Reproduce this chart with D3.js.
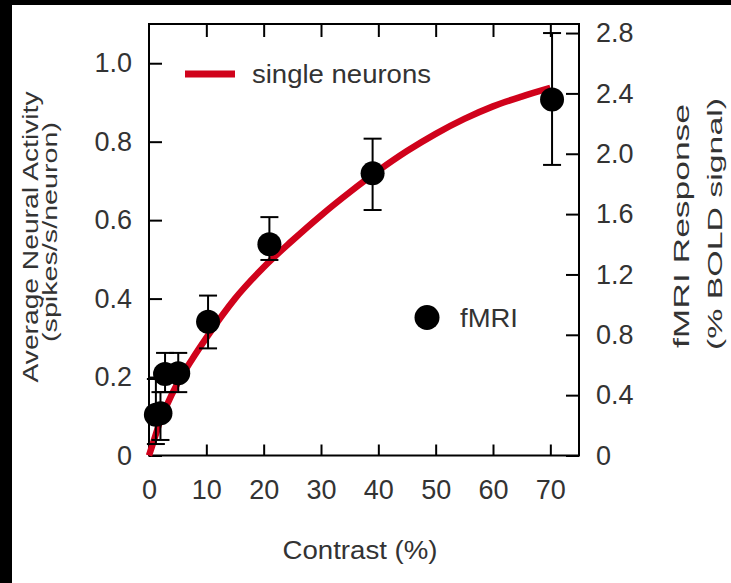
<!DOCTYPE html>
<html><head><meta charset="utf-8">
<script src="https://cdn.jsdelivr.net/npm/d3@7"></script>
<style>body{margin:0;background:#000;}svg{display:block;}</style>
</head><body>
<svg id="chart" width="731" height="583"></svg>
<script>
// ---- data ----
const xTicks = [0, 10, 20, 30, 40, 50, 60, 70];
const leftTicks = [0, 0.2, 0.4, 0.6, 0.8, 1.0];
const leftTickLabels = ["0", "0.2", "0.4", "0.6", "0.8", "1.0"];
const rightTicks = [0, 0.4, 0.8, 1.2, 1.6, 2.0, 2.4, 2.8];
const rightTickLabels = ["0", "0.4", "0.8", "1.2", "1.6", "2.0", "2.4", "2.8"];

// single neuron fit (Contrast %, spikes/s/neuron)
const curveContrast = [0, 1, 2, 3, 5, 7.5, 10, 15, 20, 25, 30, 35, 40, 45, 50, 55, 60, 65, 70];
const curveActivity = [0, 0.045, 0.09, 0.125, 0.185, 0.245, 0.30, 0.40, 0.48, 0.548, 0.612, 0.671, 0.726, 0.776, 0.82, 0.858, 0.89, 0.915, 0.937];

// fMRI (Contrast %, % BOLD signal)
const fmriContrast = [1.2, 2.0, 2.8, 5.1, 10.3, 21, 39, 70.3];
const fmriBold = [0.27, 0.28, 0.54, 0.545, 0.887, 1.40, 1.87, 2.36];
const fmriLow = [0.076, 0.103, 0.42, 0.42, 0.71, 1.296, 1.627, 1.926];
const fmriHigh = [0.507, 0.42, 0.68, 0.68, 1.06, 1.58, 2.10, 2.80];

// ---- drawing ----
const svg = d3.select("#chart");
const RED = "#d0021b", TXT = "#333";
const FONT = "'Liberation Sans', Arial, sans-serif";

svg.append("rect").attr("x", 0).attr("y", 0).attr("width", 731).attr("height", 583).attr("fill", "#000");
svg.append("rect").attr("x", 12).attr("y", 5).attr("width", 719).attr("height", 578).attr("fill", "#fff");

const L = 149, R = 579, T = 24, B = 455.5;
const x = d3.scaleLinear().domain([0, 75]).range([L, R]);
const yL = d3.scaleLinear().domain([0, 1.1]).range([B, T]);
const yR = d3.scaleLinear().domain([0, 2.86]).range([B, T]);

// frame
svg.append("rect").attr("x", L).attr("y", T).attr("width", R - L).attr("height", B - T)
  .attr("fill", "none").attr("stroke", "#000").attr("stroke-width", 2);

function styleAxis(g) {
  g.select(".domain").remove();
  g.selectAll(".tick line").attr("stroke", "#000").attr("stroke-width", 2);
  g.selectAll(".tick text").attr("fill", TXT).attr("font-family", FONT).attr("font-size", 27);
}

// bottom axis (ticks inward)
svg.append("g").attr("transform", `translate(0,${B})`)
  .call(d3.axisBottom(x).tickValues(xTicks).tickSize(-11).tickPadding(24).tickFormat(d3.format("d")))
  .call(styleAxis);
// top axis ticks (inward, no labels)
svg.append("g").attr("transform", `translate(0,${T})`)
  .call(d3.axisTop(x).tickValues(xTicks.slice(1)).tickSize(-13).tickFormat(""))
  .call(styleAxis);
// left axis
svg.append("g").attr("transform", `translate(${L},0)`)
  .call(d3.axisLeft(yL).tickValues(leftTicks).tickSize(-13).tickPadding(17)
    .tickFormat((d, i) => leftTickLabels[i]))
  .call(styleAxis);
// right axis
svg.append("g").attr("transform", `translate(${R},0)`)
  .call(d3.axisRight(yR).tickValues(rightTicks).tickSize(-13).tickPadding(17)
    .tickFormat((d, i) => rightTickLabels[i]))
  .call(styleAxis);

// curve
const curveData = curveContrast.map((c, i) => [c, curveActivity[i]]);
svg.append("path").datum(curveData)
  .attr("fill", "none").attr("stroke", RED).attr("stroke-width", 6.5)
  .attr("d", d3.line().x(d => x(d[0])).y(d => yL(d[1])).curve(d3.curveMonotoneX));

// error bars
const fmri = fmriContrast.map((c, i) => ({c, v: fmriBold[i], lo: fmriLow[i], hi: fmriHigh[i]}));
const eb = svg.append("g").attr("stroke", "#000").attr("stroke-width", 2);
fmri.forEach(d => {
  eb.append("line").attr("x1", x(d.c)).attr("x2", x(d.c)).attr("y1", yR(d.lo)).attr("y2", yR(d.hi));
  [d.lo, d.hi].forEach(v => eb.append("line").attr("x1", x(d.c) - 9).attr("x2", x(d.c) + 9)
    .attr("y1", yR(v)).attr("y2", yR(v)));
});
svg.append("g").selectAll("circle").data(fmri).join("circle")
  .attr("cx", d => x(d.c)).attr("cy", d => yR(d.v)).attr("r", 12).attr("fill", "#000");

// legend
svg.append("line").attr("x1", 185).attr("x2", 235).attr("y1", 74).attr("y2", 74)
  .attr("stroke", RED).attr("stroke-width", 7);
svg.append("text").attr("x", 252).attr("y", 83).attr("fill", TXT).attr("font-family", FONT)
  .attr("font-size", 26).attr("textLength", 179).attr("lengthAdjust", "spacingAndGlyphs").text("single neurons");
svg.append("circle").attr("cx", 427).attr("cy", 317.5).attr("r", 12.5).attr("fill", "#000");
svg.append("text").attr("x", 460).attr("y", 327).attr("fill", TXT).attr("font-family", FONT)
  .attr("font-size", 26).attr("textLength", 58).attr("lengthAdjust", "spacingAndGlyphs").text("fMRI");

// axis titles
svg.append("text").attr("x", 360).attr("y", 559).attr("text-anchor", "middle").attr("fill", TXT)
  .attr("font-family", FONT).attr("font-size", 26).attr("textLength", 155).attr("lengthAdjust", "spacingAndGlyphs")
  .text("Contrast (%)");

function vtitle(cx, cy, len, size, txt) {
  svg.append("text").attr("transform", `translate(${cx},${cy}) rotate(-90)`)
    .attr("text-anchor", "middle").attr("fill", TXT).attr("font-family", FONT).attr("font-size", size)
    .attr("textLength", len).attr("lengthAdjust", "spacingAndGlyphs").text(txt);
}
vtitle(38, 237, 291, 22, "Average Neural Activity");
vtitle(57, 232, 220, 21, "(spikes/s/neuron)");
vtitle(689, 226, 244, 22, "fMRI Response");
vtitle(722, 224, 252, 21, "(% BOLD signal)");
</script>
</body></html>
